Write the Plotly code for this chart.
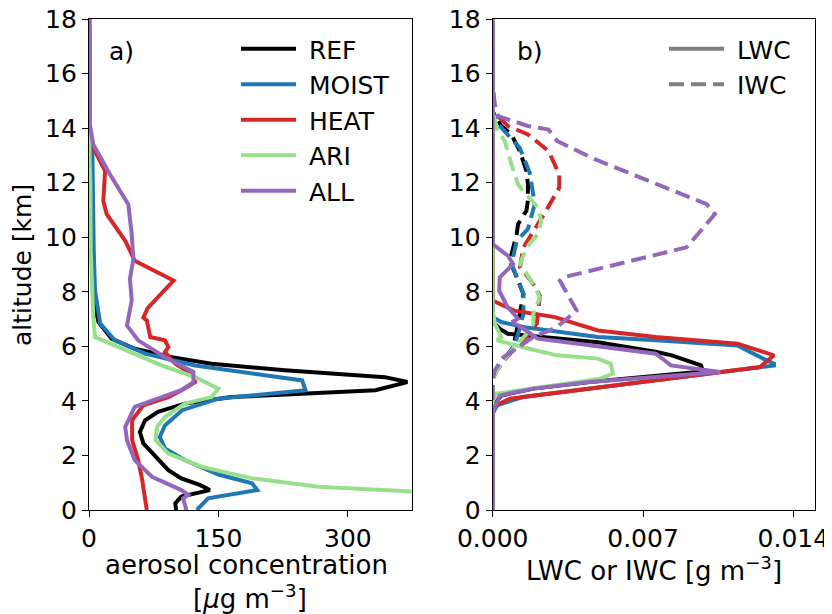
import plotly.graph_objects as go

# ---------------- data: aerosol concentration (panel a) ----------------
ref_alt = [0.0, 0.24, 0.49, 0.73, 0.91, 1.16, 1.46, 1.95, 2.44, 2.86, 3.29, 3.6, 3.9, 4.14, 4.27, 4.39, 4.69, 4.87, 5.12, 5.36, 5.6, 5.91, 6.28, 6.89, 7.68, 9.0, 11.0, 13.0, 14.0, 15.0, 18.0]
ref_aer = [101, 100, 107, 140, 129, 107, 92, 77, 63, 59, 65, 80, 111, 165, 266, 332, 369, 343, 227, 142, 96, 53, 26, 11, 5, 3.5, 3, 2.5, 1, 0.3, 0]

moist_alt = [0.0, 0.43, 0.73, 0.98, 1.3, 1.83, 2.26, 2.68, 3.1, 3.66, 4.08, 4.27, 4.39, 4.75, 5.0, 5.3, 5.73, 6.22, 6.83, 8.04, 9.5, 11.0, 13.0, 14.0, 15.0, 18.0]
moist_aer = [125, 138, 195, 189, 150, 111, 88, 82, 88, 108, 150, 212, 251, 247, 189, 123, 65, 30, 13, 7, 5.5, 5, 4, 1, 0.3, 0]

heat_alt = [0.0, 0.49, 1.22, 1.83, 2.56, 3.29, 3.84, 4.14, 4.45, 4.69, 4.94, 5.36, 5.79, 5.97, 6.22, 6.34, 6.95, 7.05, 7.4, 8.41, 9.14, 9.87, 10.85, 11.33, 12.43, 13.4, 13.9, 18.0]
heat_aer = [67, 65, 61, 57, 50, 50, 63, 92, 111, 123, 121, 100, 88, 92, 88, 71, 67, 63, 68, 98, 53, 42, 20.5, 16.6, 18.6, 3, 0.8, 0]

ari_alt = [0.0, 0.4, 0.67, 0.85, 1.16, 1.58, 2.07, 2.56, 3.05, 3.41, 3.9, 4.14, 4.45, 4.87, 5.3, 5.85, 6.34, 7.07, 9.5, 12.0, 13.0, 18.0]
ari_aer = [640, 520, 380, 266, 189, 131, 92, 77, 79, 88, 111, 142, 150, 123, 84, 42, 7, 5, 2, 1.5, 0.5, 0]

all_alt = [0.0, 0.43, 0.55, 0.73, 1.22, 1.83, 2.56, 3.05, 3.78, 4.39, 4.69, 5.06, 5.6, 6.22, 6.76, 7.68, 8.47, 9.2, 10.1, 11.2, 12.3, 13.4, 14.1, 18.0]
all_aer = [113, 109, 115, 107, 73, 53, 44, 42, 53, 107, 121, 121, 88, 57, 44, 49.5, 47.5, 51.4, 49.5, 45.6, 24.4, 5, 1.2, 1]

# ---------------- data: liquid water content (panel b, solid) ----------------
ref_lwc_alt = [0.0, 3.7, 3.9, 4.2, 4.45, 4.69, 5.08, 5.3, 5.67, 5.79, 6.15, 6.46, 6.64, 6.9, 18.0]
ref_lwc = [0, 0, 0.0001, 0.0004, 0.0019, 0.0045, 0.0098, 0.0097, 0.00834, 0.00764, 0.0049, 0.0007, 0.00034, 0, 0]

moist_lwc_alt = [0.0, 3.53, 3.84, 4.14, 5.3, 5.36, 5.55, 6.03, 6.22, 6.34, 6.7, 6.89, 7.07, 18.0]
moist_lwc = [0, 0, 0.0002, 0.0014, 0.0131, 0.0131, 0.0126, 0.0114, 0.0076, 0.0049, 0.0015, 0.0004, 0, 0]

heat_lwc_alt = [0.0, 3.78, 4.08, 5.24, 5.67, 6.1, 6.34, 6.58, 7.07, 7.31, 7.68, 18.0]
heat_lwc = [0, 0, 0.0008, 0.01245, 0.0131, 0.0114, 0.0076, 0.0049, 0.0029, 0.001, 0, 0]

ari_lwc_alt = [0.0, 4.0, 4.27, 4.81, 5.0, 5.36, 5.55, 5.67, 5.91, 6.22, 6.34, 6.83, 7.31, 18.0]
ari_lwc = [0, 0, 0.0002, 0.005, 0.0056, 0.0055, 0.0049, 0.003, 0.0017, 0.0002, 0.0004, 0.0001, 0, 0]

all_lwc_alt = [0.0, 3.6, 4.2, 4.45, 4.69, 5.06, 5.3, 5.73, 6.22, 6.28, 6.7, 6.89, 7.01, 7.43, 8.04, 8.53, 9.02, 9.32, 9.75, 18.0]
all_lwc = [0, 0, 0.00034, 0.0019, 0.0045, 0.0106, 0.0083, 0.0076, 0.0027, 0.0021, 0.00133, 0.0009, 0.00118, 0.0007, 0.0003, 0.00033, 0.00095, 0.00071, 0, 0]

# ---------------- data: ice water content (panel b, dashed) ----------------
ref_iwc_alt = [0.0, 4.9, 5.5, 5.97, 6.5, 7.19, 7.92, 8.53, 9.14, 10.12, 10.48, 10.97, 11.34, 11.95, 12.43, 13.16, 13.77, 14.08, 14.6, 18.0]
ref_iwc = [0, 0, 0.0005, 0.00096, 0.0011, 0.00127, 0.00143, 0.00112, 0.0008, 0.00112, 0.00118, 0.00157, 0.00164, 0.00164, 0.00157, 0.00126, 0.00087, 0.0004, 0, 0]

moist_iwc_alt = [0.0, 4.9, 5.5, 6.0, 6.5, 7.19, 7.92, 9.02, 9.87, 10.3, 11.22, 11.95, 12.37, 13.28, 14.1, 14.6, 18.0]
moist_iwc = [0, 0, 0.0005, 0.001, 0.0012, 0.00143, 0.00143, 0.00088, 0.00112, 0.00164, 0.00196, 0.0018, 0.00172, 0.00126, 0.0003, 0, 0]

heat_iwc_alt = [0.0, 4.8, 5.12, 5.6, 6.22, 6.83, 7.86, 8.29, 8.9, 9.63, 10.6, 10.85, 11.82, 12.31, 13.16, 13.77, 14.08, 14.63, 18.0]
heat_iwc = [0, 0, 0.0002, 0.00065, 0.00143, 0.00205, 0.0022, 0.00189, 0.00127, 0.00143, 0.0022, 0.0024, 0.0031, 0.0031, 0.0026, 0.00164, 0.0007, 0, 0]

ari_iwc_alt = [0.0, 4.8, 5.12, 5.5, 6.46, 6.83, 7.19, 7.8, 8.29, 9.02, 9.63, 10.12, 10.6, 11.1, 11.7, 11.95, 12.68, 13.53, 13.95, 14.63, 18.0]
ari_iwc = [0, 0, 0.0002, 0.0005, 0.00158, 0.00189, 0.00189, 0.0022, 0.00189, 0.00127, 0.00158, 0.0021, 0.00226, 0.0021, 0.0014, 0.00118, 0.00087, 0.00056, 0.0002, 0, 0]

all_iwc_alt = [0.0, 4.8, 5.12, 5.6, 6.34, 6.7, 7.31, 7.62, 8.41, 8.53, 9.63, 10.85, 11.21, 12.86, 13.53, 13.95, 14.08, 14.44, 14.87, 15.6, 18.0]
all_iwc = [0, 0, 0.0001, 0.0005, 0.00189, 0.00298, 0.00391, 0.0037, 0.00313, 0.00329, 0.00903, 0.01035, 0.00997, 0.00475, 0.003, 0.0026, 0.00164, 0.00025, 0.0001, 0, 0]

# ---------------- labels / styles ----------------
names = ["REF", "MOIST", "HEAT", "ARI", "ALL"]
colors = ["#000000", "#1f77b4", "#d62728", "#98df8a", "#9467bd"]
aer_series = [(ref_alt, ref_aer), (moist_alt, moist_aer), (heat_alt, heat_aer), (ari_alt, ari_aer), (all_alt, all_aer)]
lwc_series = [(ref_lwc_alt, ref_lwc), (moist_lwc_alt, moist_lwc), (heat_lwc_alt, heat_lwc), (ari_lwc_alt, ari_lwc), (all_lwc_alt, all_lwc)]
iwc_series = [(ref_iwc_alt, ref_iwc), (moist_iwc_alt, moist_iwc), (heat_iwc_alt, heat_iwc), (ari_iwc_alt, ari_iwc), (all_iwc_alt, all_iwc)]
style_names = ["LWC", "IWC"]

y_ticks = [0, 2, 4, 6, 8, 10, 12, 14, 16, 18]
x1_ticks = [0, 150, 300]
x2_ticks = [0.0, 0.007, 0.014]
x2_ticklabels = ["0.000", "0.007", "0.014"]

FONT = "DejaVu Sans, Verdana, sans-serif"
FS = 25
FS_X = 26
LW = 4
DASH = "15px,7px"
NB = "\u00a0"

# the page body has an 8px margin: figure is placed at (8, 8) in the 832x614 window
OFF = 8
W, H = 832 - OFF, 614 - OFF


def px(x):
    return (x - OFF) / W


def py(y):
    return 1 - (y - OFF) / H


fig = go.Figure()

for nm, col, (a, v) in zip(names, colors, aer_series):
    fig.add_trace(go.Scatter(x=v, y=a, mode="lines", name=NB + nm, line=dict(color=col, width=LW),
                             xaxis="x", yaxis="y", legend="legend", legendgroup=nm))

for nm, col, (a, v), (a2, v2) in zip(names, colors, lwc_series, iwc_series):
    fig.add_trace(go.Scatter(x=v, y=a, mode="lines", showlegend=False, line=dict(color=col, width=LW),
                             xaxis="x2", yaxis="y2"))
    fig.add_trace(go.Scatter(x=v2, y=a2, mode="lines", showlegend=False,
                             line=dict(color=col, width=LW, dash=DASH),
                             xaxis="x2", yaxis="y2"))

# legend entries for the line styles
for sn, dash in zip(style_names, ["solid", DASH]):
    fig.add_trace(go.Scatter(x=[None], y=[None], mode="lines", name=NB + sn,
                             line=dict(color="#808080", width=LW, dash=dash),
                             xaxis="x2", yaxis="y2", legend="legend2", legendgroup=sn))

ax_common = dict(showline=True, linecolor="black", linewidth=1.2, mirror=True, ticks="outside",
                 ticklen=6, tickwidth=1.2, tickcolor="black", showgrid=False, zeroline=False,
                 tickfont=dict(family=FONT, size=FS, color="black"), automargin=False,
                 ticklabeloverflow="allow")

ydom = [py(510), py(19)]

leg_common = dict(xanchor="left", yanchor="top", bgcolor="rgba(0,0,0,0)",
                  font=dict(family=FONT, size=FS, color="black"), tracegroupgap=0,
                  traceorder="grouped", itemwidth=55)

fig.update_layout(
    width=W, height=H,
    margin=dict(l=0, r=0, t=0, b=0),
    paper_bgcolor="white", plot_bgcolor="white",
    font=dict(family=FONT, size=FS, color="black"),
    xaxis=dict(domain=[px(89), px(411.7)], range=[0, 374], tickvals=x1_ticks, anchor="y", **ax_common),
    yaxis=dict(domain=ydom, range=[0, 18], tickvals=y_ticks, anchor="x", **ax_common),
    xaxis2=dict(domain=[px(492.7), px(815)], range=[0, 0.01501], tickvals=x2_ticks, ticktext=x2_ticklabels,
                anchor="y2", **ax_common),
    yaxis2=dict(domain=ydom, range=[0, 18], tickvals=y_ticks, anchor="x2", **ax_common),
    legend=dict(x=px(236), y=py(26), **leg_common),
    legend2=dict(x=px(664), y=py(26), **leg_common),
    showlegend=True,
)

annos = [
    dict(text="a)", x=px(107), y=py(52), xanchor="left", yanchor="middle", size=FS),
    dict(text="b)", x=px(515), y=py(52), xanchor="left", yanchor="middle", size=FS),
    dict(text="altitude [km]", x=px(22), y=py(265), xanchor="center", yanchor="middle", textangle=-90, size=FS),
    dict(text="aerosol concentration", x=px(247), y=py(565), xanchor="center", yanchor="middle", size=FS_X),
    dict(text="[<i>μ</i>g m<sup>−3</sup>]", x=px(250), y=py(597), xanchor="center", yanchor="middle", size=FS_X),
    dict(text="LWC or IWC [g m<sup>−3</sup>]", x=px(654), y=py(569), xanchor="center", yanchor="middle", size=FS_X),
]
for a in annos:
    s = a.pop("size")
    fig.add_annotation(xref="paper", yref="paper", showarrow=False,
                       font=dict(family=FONT, size=s, color="black"), **a)

fig.write_html("out.html")
